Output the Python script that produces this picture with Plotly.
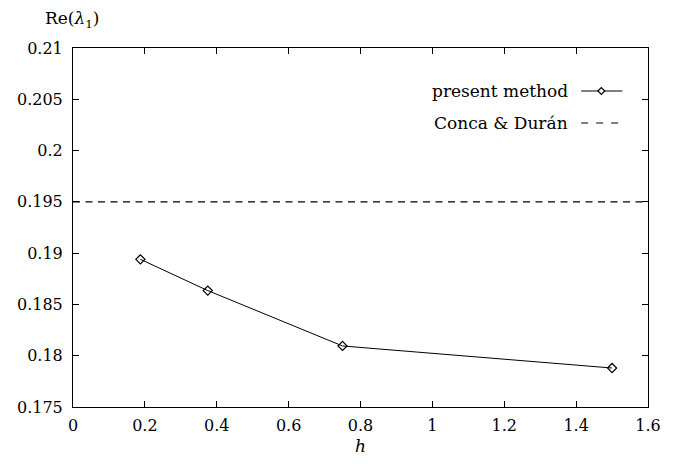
import plotly.graph_objects as go

h_vals = [0.1875, 0.375, 0.75, 1.5]
re_lambda = [0.1894, 0.18635, 0.18095, 0.1788]
conca_duran = 0.195

x_ticks = [0, 0.2, 0.4, 0.6, 0.8, 1.0, 1.2, 1.4, 1.6]
x_ticktext = ["0", "0.2", "0.4", "0.6", "0.8", "1", "1.2", "1.4", "1.6"]
y_ticks = [0.175, 0.18, 0.185, 0.19, 0.195, 0.2, 0.205, 0.21]
y_ticktext = ["0.175", "0.18", "0.185", "0.19", "0.195", "0.2", "0.205", "0.21"]

FONT = "DejaVu Serif"
L, R, T, B = 73, 658, 48, 407  # plot area in pixels


def px(x):
    return (x - L) / (R - L)


def py(y):
    return (B - y) / (B - T)


fig = go.Figure()
fig.add_trace(go.Scatter(
    x=h_vals, y=re_lambda, mode="lines+markers",
    line=dict(color="black", width=1),
    marker=dict(symbol="diamond-open", size=7, color="black", line=dict(width=1.2)),
    name="present method", showlegend=False))
fig.add_trace(go.Scatter(
    x=[0, 1.6], y=[conca_duran, conca_duran], mode="lines",
    line=dict(color="black", width=1.1, dash="7px,5.5px"),
    name="Conca & Durán", showlegend=False))

axis_common = dict(
    showgrid=False, zeroline=False, showline=True, linecolor="black", linewidth=1,
    mirror="allticks", ticks="inside", ticklen=6, tickcolor="black", tickwidth=1,
    tickfont=dict(family=FONT, size=16, color="black"),
)
fig.update_xaxes(range=[0, 1.6], tickvals=x_ticks, ticktext=x_ticktext,
                 ticklabelstandoff=4, **axis_common)
fig.update_yaxes(range=[0.175, 0.21], tickvals=y_ticks, ticktext=y_ticktext,
                 ticklabelstandoff=6, **axis_common)

annots = [
    dict(x=px(579), y=py(90.5), text="present method", xanchor="right"),
    dict(x=px(579), y=py(123), text="Conca & Durán", xanchor="right"),
    dict(x=px(72), y=py(19), text="Re(<i>λ</i><sub>1</sub>)", xanchor="center"),
    dict(x=px(365), y=py(446), text="<i>h</i>", xanchor="center"),
]
for a in annots:
    fig.add_annotation(xref="paper", yref="paper", yanchor="middle", showarrow=False,
                       font=dict(family=FONT, size=17, color="black"), **a)

# legend samples (drawn at the right of the labels, as in the reference)
fig.add_shape(type="line", xref="paper", yref="paper", x0=px(590), x1=px(632),
              y0=py(91), y1=py(91), line=dict(color="black", width=1))
cx, cy, d = 610.5, 91, 3.5
fig.add_shape(type="path", xref="paper", yref="paper",
              path=(f"M {px(cx-d)} {py(cy)} L {px(cx)} {py(cy-d)} L {px(cx+d)} {py(cy)} "
                    f"L {px(cx)} {py(cy+d)} Z"),
              fillcolor="white", line=dict(color="black", width=1.2))
fig.add_shape(type="line", xref="paper", yref="paper", x0=px(590), x1=px(628),
              y0=py(123), y1=py(123), line=dict(color="black", width=1.1, dash="7px,8px"))

fig.update_layout(
    width=673, height=464,
    margin=dict(l=L, r=673 - R, t=T, b=464 - B),
    paper_bgcolor="white", plot_bgcolor="white",
    font=dict(family=FONT, size=16, color="black"),
)

fig.write_html("out.html")
